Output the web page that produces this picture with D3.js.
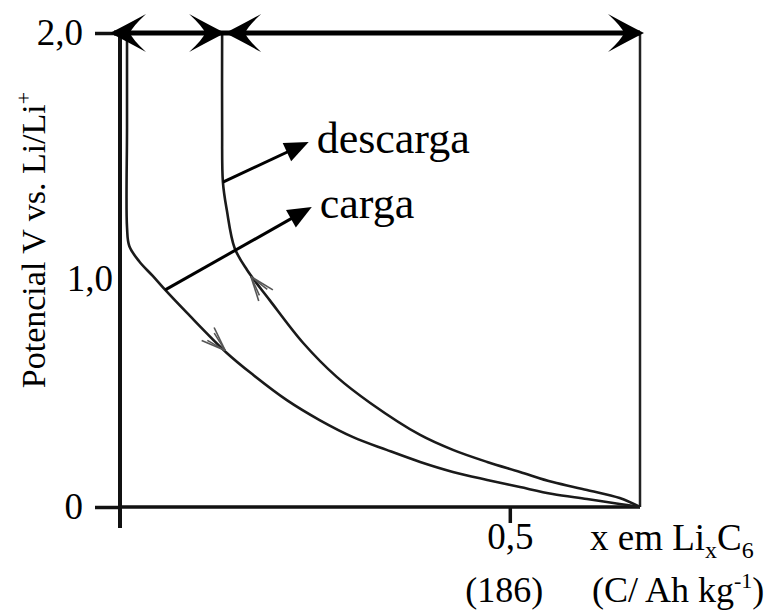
<!DOCTYPE html>
<html>
<head>
<meta charset="utf-8">
<script src="https://cdn.jsdelivr.net/npm/d3@7"></script>
<style>
body { margin: 0; background: #fff; }
text { font-family: "Liberation Serif", "Times New Roman", serif; fill: #000; }
</style>
</head>
<body>
<svg width="781" height="612"></svg>
<script>
// carga (lower curve)
var chargeX = [0.009, 0.009, 0.009, 0.012, 0.025, 0.042, 0.058, 0.086, 0.137, 0.171, 0.214, 0.256, 0.299, 0.342, 0.385, 0.427, 0.471, 0.513, 0.555, 0.599, 0.641, 0.667];
var chargeV = [2.00, 1.60, 1.18, 1.10, 1.035, 0.975, 0.916, 0.819, 0.650, 0.557, 0.451, 0.367, 0.295, 0.241, 0.190, 0.148, 0.114, 0.084, 0.055, 0.034, 0.013, 0];
// descarga (upper curve)
var dischargeX = [0.131, 0.131, 0.132, 0.137, 0.147, 0.163, 0.192, 0.235, 0.278, 0.321, 0.385, 0.427, 0.471, 0.513, 0.555, 0.599, 0.641, 0.667];
var dischargeV = [2.00, 1.60, 1.371, 1.253, 1.093, 1.000, 0.873, 0.692, 0.549, 0.439, 0.304, 0.241, 0.190, 0.148, 0.105, 0.072, 0.038, 0];

var seriesNames = ["carga", "descarga"];
var yTicks = [0, 1, 2];
var yTickLabels = ["0", "1,0", "2,0"];
var xTicks = [0.5];
var xTickLabels = ["0,5"];
var xTickLabels2 = ["(186)"];
var xMax = 0.667, yMax = 2;

var svg = d3.select("svg");

var x = d3.scaleLinear().domain([0, xMax]).range([120, 640]);
var y = d3.scaleLinear().domain([0, yMax]).range([507, 33]);

var ink = "#111";

// left axis
var yAxis = d3.axisLeft(y)
    .tickValues(yTicks)
    .tickSize(25)
    .tickSizeOuter(0)
    .tickPadding(12)
    .tickFormat(function(d, i) { return yTickLabels[i]; });
var gy = svg.append("g").attr("transform", "translate(" + x(0) + ",0)").call(yAxis);
gy.select(".domain").remove();
gy.selectAll("line").attr("stroke", ink).attr("stroke-width", 3.5);
gy.selectAll("text").attr("font-size", 37).attr("fill", "#000");
gy.selectAll(".tick").filter(function(d) { return d === 1; })
    .each(function() {
        d3.select(this).select("line").remove();
        d3.select(this).select("text").attr("x", -7).attr("dy", "0.55em");
    });

// bottom axis
var xAxis = d3.axisBottom(x)
    .tickValues(xTicks)
    .tickSize(16)
    .tickSizeOuter(0)
    .tickPadding(0)
    .tickFormat(function(d, i) { return xTickLabels[i]; });
var gx = svg.append("g").attr("transform", "translate(0," + y(0) + ")").call(xAxis);
gx.select(".domain").remove();
gx.selectAll("line").attr("stroke", ink).attr("stroke-width", 3.5);
gx.selectAll("text").attr("font-size", 37).attr("fill", "#000");
gx.selectAll(".tick").append("text")
    .attr("y", 95).attr("x", -6)
    .attr("font-size", 36).attr("text-anchor", "middle").attr("fill", "#000")
    .text(function(d, i) { return xTickLabels2[i]; });

// frame lines
svg.append("line")
    .attr("x1", x(0)).attr("x2", x(0))
    .attr("y1", y(0) + 21).attr("y2", y(yMax))
    .attr("stroke", ink).attr("stroke-width", 4);
svg.append("line")
    .attr("x1", x(0)).attr("x2", x(xMax))
    .attr("y1", y(0)).attr("y2", y(0))
    .attr("stroke", ink).attr("stroke-width", 3.5);
svg.append("line")
    .attr("x1", x(xMax)).attr("x2", x(xMax))
    .attr("y1", y(0)).attr("y2", y(yMax))
    .attr("stroke", "#222").attr("stroke-width", 2.5);

// curves
var line = d3.line()
    .x(function(d) { return x(d[0]); })
    .y(function(d) { return y(d[1]); })
    .curve(d3.curveCatmullRom.alpha(0.5));

var charge = chargeX.map(function(v, i) { return [v, chargeV[i]]; });
var discharge = dischargeX.map(function(v, i) { return [v, dischargeV[i]]; });

svg.selectAll("path.curve")
    .data([charge, discharge])
    .enter().append("path")
    .attr("class", "curve")
    .attr("d", line)
    .attr("fill", "none")
    .attr("stroke", "#1a1a1a")
    .attr("stroke-width", 2.6);

// top double-headed span arrows
var head = "M0,0 Q-14,-7 -36,-19 Q-22,-6 -20,0 Q-22,6 -36,19 Q-14,7 0,0 Z";
svg.append("line")
    .attr("x1", x(0) - 6).attr("x2", x(xMax))
    .attr("y1", y(yMax)).attr("y2", y(yMax))
    .attr("stroke", "#000").attr("stroke-width", 5);
var heads = [
    {px: x(0) - 10, dir: 180},
    {px: x(dischargeX[0]) + 3, dir: 0},
    {px: x(dischargeX[0]) + 3, dir: 180},
    {px: x(xMax) + 4, dir: 0}
];
svg.selectAll("path.head")
    .data(heads)
    .enter().append("path")
    .attr("class", "head")
    .attr("d", head)
    .attr("fill", "#000")
    .attr("transform", function(d) { return "translate(" + d.px + "," + y(yMax) + ") rotate(" + d.dir + ")"; });

// small direction arrows on the curves
function chevron(from, to) {
    var x1 = x(from[0]), y1 = y(from[1]), x2 = x(to[0]), y2 = y(to[1]);
    var a = Math.atan2(y2 - y1, x2 - x1) * 180 / Math.PI;
    var g = svg.append("g").attr("transform", "translate(" + x2 + "," + y2 + ") rotate(" + a + ")");
    [[-24, -9], [-24, 9], [-20, -5], [-20, 5]].forEach(function(p) {
        g.append("line")
            .attr("x1", 0).attr("y1", 0).attr("x2", p[0]).attr("y2", p[1])
            .attr("stroke", "#555").attr("stroke-width", 1.6);
    });
}
chevron([0.100, 0.770], [0.135, 0.660]);
chevron([0.190, 0.880], [0.168, 0.972]);

// labelled pointer arrows
function pointer(from, to, label) {
    var x1 = x(from[0]), y1 = y(from[1]), x2 = x(to[0]), y2 = y(to[1]);
    var a = Math.atan2(y2 - y1, x2 - x1) * 180 / Math.PI;
    svg.append("line")
        .attr("x1", x1).attr("y1", y1).attr("x2", x2 - 10 * Math.cos(a * Math.PI / 180)).attr("y2", y2 - 10 * Math.sin(a * Math.PI / 180))
        .attr("stroke", "#000").attr("stroke-width", 3);
    svg.append("path")
        .attr("d", "M0,0 L-24,-10 L-24,10 Z")
        .attr("fill", "#000")
        .attr("transform", "translate(" + x2 + "," + y2 + ") rotate(" + a + ")");
    svg.append("text")
        .attr("x", x2 + 8).attr("y", y2 + 11)
        .attr("font-size", 44)
        .text(label);
}
pointer([dischargeX[2], dischargeV[2]], [0.242, 1.540], seriesNames[1]);
pointer([chargeX[6], chargeV[6]], [0.246, 1.266], seriesNames[0]);

// axis titles
var yt = svg.append("text")
    .attr("transform", "translate(45,240) rotate(-90)")
    .attr("text-anchor", "middle")
    .attr("font-size", 34);
yt.append("tspan").text("Potencial V vs. Li/Li");
yt.append("tspan").attr("font-size", 22).attr("dy", -14).text("+");

var xt = svg.append("text")
    .attr("x", 590).attr("y", 550)
    .attr("font-size", 37);
xt.append("tspan").text("x em Li");
xt.append("tspan").attr("font-size", 24).attr("dy", 8).text("x");
xt.append("tspan").attr("dy", -8).text("C");
xt.append("tspan").attr("font-size", 24).attr("dy", 8).text("6");

var xu = svg.append("text")
    .attr("x", 592).attr("y", 602)
    .attr("font-size", 36);
xu.append("tspan").text("(C/ Ah kg");
xu.append("tspan").attr("font-size", 22).attr("dy", -14).text("-1");
xu.append("tspan").attr("dy", 14).text(")");
</script>
</body>
</html>
